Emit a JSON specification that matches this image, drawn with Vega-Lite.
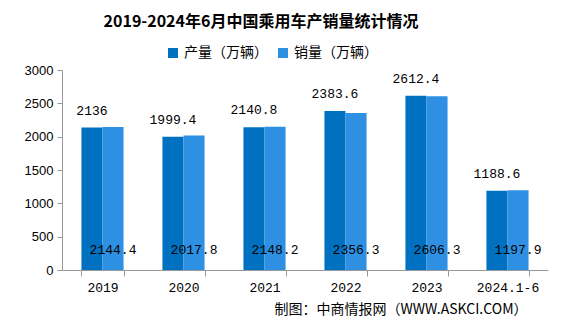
{
  "$schema": "https://vega.github.io/schema/vega-lite/v6.json",
  "width": 486,
  "height": 200,
  "autosize": {"type": "none"},
  "padding": {"left": 62, "top": 70, "right": 28, "bottom": 57},
  "background": "white",
  "title": {
    "text": "2019-2024年6月中国乘用车产销量统计情况",
    "font": "Noto Sans CJK SC",
    "fontSize": 16,
    "fontWeight": "bold",
    "color": "#000000",
    "anchor": "middle",
    "dx": -44,
    "offset": 16,
    "frame": "group"
  },
  "data": {
    "values": [
      {"year": "2019", "type": "产量（万辆）", "value": 2136},
      {"year": "2019", "type": "销量（万辆）", "value": 2144.4},
      {"year": "2020", "type": "产量（万辆）", "value": 1999.4},
      {"year": "2020", "type": "销量（万辆）", "value": 2017.8},
      {"year": "2021", "type": "产量（万辆）", "value": 2140.8},
      {"year": "2021", "type": "销量（万辆）", "value": 2148.2},
      {"year": "2022", "type": "产量（万辆）", "value": 2383.6},
      {"year": "2022", "type": "销量（万辆）", "value": 2356.3},
      {"year": "2023", "type": "产量（万辆）", "value": 2612.4},
      {"year": "2023", "type": "销量（万辆）", "value": 2606.3},
      {"year": "2024.1-6", "type": "产量（万辆）", "value": 1188.6},
      {"year": "2024.1-6", "type": "销量（万辆）", "value": 1197.9}
    ]
  },
  "encoding": {
    "x": {
      "field": "year",
      "type": "nominal",
      "sort": null,
      "scale": {"paddingInner": 0.48, "paddingOuter": 0.24},
      "axis": {
        "title": "制图：中商情报网（WWW.ASKCI.COM）",
        "titleFont": "Noto Sans CJK SC",
        "titleFontSize": 14,
        "titleFontWeight": "normal",
        "titleColor": "#000000",
        "titleAnchor": "end",
        "titleAlign": "right",
        "titleX": 465,
        "titleY": 39,
        "titleBaseline": "middle",
        "labelAngle": 0,
        "labelFont": "Liberation Mono",
        "labelFontSize": 13,
        "labelColor": "#000000",
        "labelPadding": 5,
        "domainColor": "#999999",
        "tickColor": "#999999",
        "tickBand": "extent",
        "tickSize": 6,
        "grid": false
      }
    },
    "xOffset": {"field": "type", "type": "nominal", "scale": {"paddingInner": 0, "paddingOuter": 0}}
  },
  "layer": [
    {
      "mark": {"type": "bar"},
      "encoding": {
        "y": {
          "field": "value",
          "type": "quantitative",
          "scale": {"domain": [0, 3000], "nice": false},
          "axis": {
            "title": null,
            "values": [0, 500, 1000, 1500, 2000, 2500, 3000],
            "format": "d",
            "labelOverlap": false,
            "labelFont": "Liberation Sans",
            "labelFontSize": 13,
            "labelColor": "#000000",
            "labelPadding": 4,
            "domainColor": "#999999",
            "tickColor": "#999999",
            "tickSize": 5,
            "grid": false
          }
        },
        "color": {
          "field": "type",
          "type": "nominal",
          "scale": {"domain": ["产量（万辆）", "销量（万辆）"], "range": ["#0070C0", "#2E90E2"]},
          "legend": {
            "title": null,
            "orient": "none",
            "direction": "horizontal",
            "legendX": 104,
            "legendY": -24,
            "symbolType": "square",
            "symbolSize": 100,
            "symbolStrokeWidth": 0,
            "labelFont": "Noto Sans CJK SC",
            "labelFontSize": 14,
            "labelColor": "#000000",
            "columnPadding": 8,
            "labelOffset": 4
          }
        }
      }
    },
    {
      "transform": [{"filter": "datum.type === '产量（万辆）'"}],
      "mark": {"type": "text", "baseline": "middle", "dy": -17, "font": "Liberation Mono", "fontSize": 13, "color": "#000000"},
      "encoding": {
        "y": {
          "field": "value",
          "type": "quantitative",
          "axis": {
            "title": null,
            "values": [0, 500, 1000, 1500, 2000, 2500, 3000],
            "format": "d",
            "labelOverlap": false,
            "labelFont": "Liberation Sans",
            "labelFontSize": 13,
            "labelColor": "#000000",
            "labelPadding": 4,
            "domainColor": "#999999",
            "tickColor": "#999999",
            "tickSize": 5,
            "grid": false
          }
        },
        "text": {"field": "value", "type": "quantitative"}
      }
    },
    {
      "transform": [{"filter": "datum.type === '销量（万辆）'"}],
      "mark": {"type": "text", "baseline": "middle", "font": "Liberation Mono", "fontSize": 13, "color": "#000000"},
      "encoding": {
        "y": {
          "datum": 300,
          "axis": {
            "title": null,
            "values": [0, 500, 1000, 1500, 2000, 2500, 3000],
            "format": "d",
            "labelOverlap": false,
            "labelFont": "Liberation Sans",
            "labelFontSize": 13,
            "labelColor": "#000000",
            "labelPadding": 4,
            "domainColor": "#999999",
            "tickColor": "#999999",
            "tickSize": 5,
            "grid": false
          }
        },
        "text": {"field": "value", "type": "quantitative"}
      }
    }
  ],
  "config": {"view": {"stroke": null}}
}
